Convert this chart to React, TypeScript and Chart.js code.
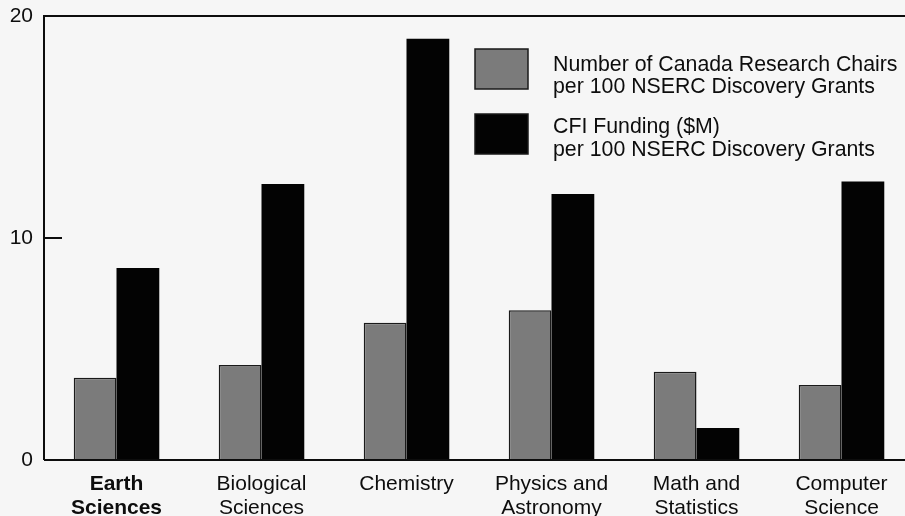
import React, { useEffect, useRef } from "react";
import { Chart, registerables } from "chart.js";

Chart.register(...registerables);

const categories: string[][] = [
  ["Earth", "Sciences"],
  ["Biological", "Sciences"],
  ["Chemistry"],
  ["Physics and", "Astronomy"],
  ["Math and", "Statistics"],
  ["Computer", "Science"],
];
const chairsPer100: number[] = [3.7, 4.28, 6.18, 6.74, 3.97, 3.38];
const cfiPer100: number[] = [8.65, 12.43, 18.98, 11.98, 1.44, 12.54];
const seriesLabels: string[][] = [
  ["Number of Canada Research Chairs", "per 100 NSERC Discovery Grants"],
  ["CFI Funding ($M)", "per 100 NSERC Discovery Grants"],
];
const yTicks: number[] = [0, 10, 20];

const FONT = "'Liberation Sans', Arial, Helvetica, sans-serif";
const INK = "#0d0d0d";
const GRAY = "#7b7b7b";
const BLACK = "#030303";
const BG = "#f6f6f6";

const framePlugin = {
  id: "frame",
  beforeDraw(chart: any) {
    const { ctx, width, height } = chart;
    ctx.save();
    ctx.fillStyle = BG;
    ctx.fillRect(0, 0, width, height);
    ctx.restore();
  },
  afterDraw(chart: any) {
    const { ctx, chartArea } = chart;
    const y = chart.scales.y;
    ctx.save();
    ctx.strokeStyle = INK;
    ctx.lineWidth = 2;
    ctx.beginPath();
    ctx.moveTo(chartArea.left, chartArea.top);
    ctx.lineTo(chartArea.left, chartArea.bottom);
    ctx.moveTo(chartArea.left, chartArea.bottom);
    ctx.lineTo(chart.width, chartArea.bottom);
    ctx.moveTo(chartArea.left - 1, chartArea.top);
    ctx.lineTo(chart.width, chartArea.top);
    ctx.stroke();
    ctx.beginPath();
    for (const v of yTicks) {
      if (v === 0 || v === 20) continue;
      const py = Math.round(y.getPixelForValue(v));
      ctx.moveTo(chartArea.left, py);
      ctx.lineTo(chartArea.left + 18, py);
    }
    ctx.stroke();

    const boxX = 475;
    const boxW = 53;
    const boxes = [
      { y: 49, h: 40, color: GRAY },
      { y: 114, h: 40, color: BLACK },
    ];
    const baselines = [
      [71, 93],
      [133, 156],
    ];
    chart.data.datasets.forEach((ds: any, i: number) => {
      const b = boxes[i];
      ctx.fillStyle = b.color;
      ctx.fillRect(boxX, b.y, boxW, b.h);
      ctx.lineWidth = 1.5;
      ctx.strokeStyle = "#1a1a1a";
      ctx.strokeRect(boxX, b.y, boxW, b.h);
      ctx.fillStyle = INK;
      ctx.font = `21.3px ${FONT}`;
      ctx.textAlign = "left";
      ctx.textBaseline = "alphabetic";
      const lines: string[] = seriesLabels[i];
      lines.forEach((t, j) => ctx.fillText(t, 553, baselines[i][j]));
    });
    ctx.restore();
  },
};

export default function App() {
  const ref = useRef<HTMLCanvasElement | null>(null);
  useEffect(() => {
    const canvas = ref.current;
    if (!canvas) return;
    const chart = new Chart(canvas, {
      type: "bar",
      data: {
        labels: categories,
        datasets: [
          {
            label: seriesLabels[0].join(" "),
            data: chairsPer100,
            backgroundColor: GRAY,
            borderColor: "#1a1a1a",
            borderWidth: 1.5,
            borderSkipped: "bottom",
          },
          {
            label: seriesLabels[1].join(" "),
            data: cfiPer100,
            backgroundColor: BLACK,
            borderColor: BLACK,
            borderWidth: 0,
          },
        ],
      },
      options: {
        responsive: false,
        animation: false,
        devicePixelRatio: 1,
        layout: { padding: { top: 16, left: 0, right: 0, bottom: 0 } },
        plugins: {
          legend: { display: false },
          tooltip: { enabled: false },
          title: { display: false },
        },
        datasets: {
          bar: { categoryPercentage: 0.59, barPercentage: 1.0 },
        },
        scales: {
          x: {
            type: "category",
            offset: true,
            grid: { display: false, drawTicks: false },
            border: { display: false },
            ticks: {
              color: INK,
              padding: 12,
              maxRotation: 0,
              autoSkip: false,
              font: (c: any) => ({
                family: FONT,
                size: 21,
                lineHeight: 1.15,
                weight: c.index === 0 ? "bold" : "normal",
              }),
            },
            afterFit: (s: any) => {
              s.height = 56;
              s.paddingLeft = 0;
              s.paddingRight = 0;
            },
          },
          y: {
            type: "linear",
            min: 0,
            max: 20,
            grid: { display: false, drawTicks: false },
            border: { display: false },
            afterBuildTicks: (s: any) => {
              s.ticks = yTicks.map((v) => ({ value: v }));
            },
            ticks: {
              color: INK,
              padding: 11,
              font: { family: FONT, size: 21 },
            },
            afterFit: (s: any) => {
              s.width = 44;
              s.paddingTop = 0;
              s.paddingBottom = 0;
            },
          },
        },
      },
      plugins: [framePlugin],
    });
    return () => chart.destroy();
  }, []);

  return (
    <div
      style={{
        position: "fixed",
        left: 0,
        top: 0,
        width: 914,
        height: 516,
        background: BG,
        overflow: "hidden",
      }}
    >
      <canvas ref={ref} width={914} height={516} style={{ display: "block" }} />
    </div>
  );
}
